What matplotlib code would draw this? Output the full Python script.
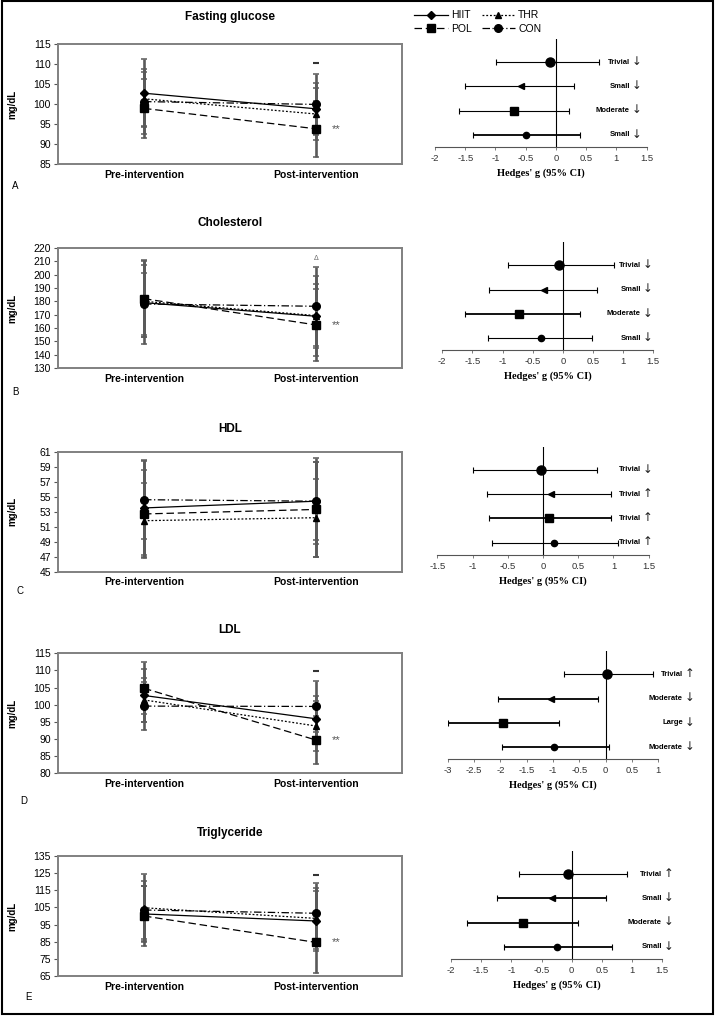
import numpy as np
import matplotlib
matplotlib.use('Agg')
import matplotlib.pyplot as plt
from matplotlib.patches import Rectangle

plt.rcParams['font.family'] = ['Liberation Sans', 'DejaVu Sans']

# DONNEES
categories = ['Pre-intervention', 'Post-intervention']
groups = ['HIIT', 'THR', 'POL', 'CON']
titles = ['Fasting glucose', 'Cholesterol', 'HDL', 'LDL', 'Triglyceride']
letters = ['A', 'B', 'C', 'D', 'E']

# moyennes [pre, post] et ecart-types, ordre HIIT, THR, POL, CON
glu_mean = [[102.7, 98.8], [101.3, 97.5], [98.9, 93.8], [100.6, 99.9]]
glu_sd = [[8.5, 6.5], [6.8, 6.6], [7.4, 7.0], [8.2, 7.5]]
chol_mean = [[179, 168.8], [180, 169.3], [182, 162.3], [178, 176.3]]
chol_sd = [[31, 30], [27, 24], [29, 27], [23, 29.5]]
hdl_mean = [[53.5, 54.4], [51.8, 52.2], [52.7, 53.3], [54.6, 54.4]]
hdl_sd = [[6.3, 5.2], [5.0, 5.2], [5.8, 6.3], [5.3, 5.7]]
ldl_mean = [[102.7, 95.9], [101.4, 93.8], [104.8, 89.7], [99.6, 99.5]]
ldl_sd = [[7.6, 6.7], [6.3, 7.2], [7.6, 7.0], [7.0, 7.4]]
tg_mean = [[101.2, 97.1], [104.8, 98.6], [100.0, 84.6], [103.5, 101.6]]
tg_sd = [[16.3, 17.7], [19.5, 18.0], [17.5, 18.0], [17.0, 17.5]]

y_limits = [(85, 115), (130, 220), (45, 61), (80, 115), (65, 135)]
y_steps = [5, 10, 2, 5, 10]
sig_marks = [110.2, 212.5, None, 109.7, 123.9]

# Hedges' g [g, bas, haut], ordre HIIT, THR, POL, CON
glu_g = [[-0.50, -1.37, 0.40], [-0.58, -1.51, 0.30], [-0.70, -1.60, 0.22], [-0.09, -0.99, 0.72]]
chol_g = [[-0.37, -1.24, 0.49], [-0.32, -1.22, 0.56], [-0.72, -1.62, 0.29], [-0.06, -0.91, 0.84]]
hdl_g = [[0.15, -0.73, 1.06], [0.11, -0.80, 0.96], [0.09, -0.77, 0.97], [-0.03, -0.99, 0.77]]
ldl_g = [[-0.975, -1.97, 0.07], [-1.04, -2.04, -0.14], [-1.955, -3.0, -0.88], [0.025, -0.79, 0.90]]
tg_g = [[-0.24, -1.12, 0.66], [-0.32, -1.23, 0.56], [-0.81, -1.73, 0.10], [-0.07, -0.88, 0.92]]

glu_lab = ['Small ↓', 'Small ↓', 'Moderate ↓', 'Trivial ↓']
chol_lab = ['Small ↓', 'Small ↓', 'Moderate ↓', 'Trivial ↓']
hdl_lab = ['Trivial ↑', 'Trivial ↑', 'Trivial ↑', 'Trivial ↓']
ldl_lab = ['Moderate ↓', 'Moderate ↓', 'Large ↓', 'Trivial ↑']
tg_lab = ['Small ↓', 'Small ↓', 'Moderate ↓', 'Trivial ↑']

g_limits = [(-2, 1.5), (-2, 1.5), (-1.5, 1.5), (-3, 1), (-2, 1.5)]
g_steps = [0.5, 0.5, 0.5, 0.5, 0.5]

means = [glu_mean, chol_mean, hdl_mean, ldl_mean, tg_mean]
sds = [glu_sd, chol_sd, hdl_sd, ldl_sd, tg_sd]
gvals = [glu_g, chol_g, hdl_g, ldl_g, tg_g]
glabs = [glu_lab, chol_lab, hdl_lab, ldl_lab, tg_lab]

# MISE EN PAGE (pixels)
W, H = 719, 1016
left_tops = [44, 248, 451.7, 653.3, 856]
title_gap = [27, 25, 23, 23, 23]
letter_pos = [(15.7, 186), (15.7, 392), (20, 591), (24, 801), (29, 997)]
f_left = [435, 442.3, 437.3, 447.7, 451]
f_right = [646.5, 653.3, 648.7, 658.3, 662.3]
f_axis = [147, 350.3, 554.7, 759.3, 959]
lab_x = [0.898, 0.918, 0.94, 1.094, 0.975]
thick_rows = [[1], [2], [2], [1, 2, 3], [1, 2, 3]]

styles = [dict(ls='-', marker='D', ms=3.8),
          dict(ls=(0, (1.5, 1.5)), marker='^', ms=5),
          dict(ls=(0, (6, 3)), marker='s', ms=5.5),
          dict(ls=(0, (6, 2, 1, 2)), marker='o', ms=5.5)]
f_marks = [dict(marker='o', ms=4.5), dict(marker='<', ms=5),
           dict(marker='s', ms=6), dict(marker='o', ms=6.5)]
rows = [1, 3, 2, 4]  # position verticale: HIIT, THR, POL, CON


def box(x0, y0, x1, y1):
    return [x0 / W, 1 - y1 / H, (x1 - x0) / W, (y1 - y0) / H]


fig = plt.figure(figsize=(W / 100, H / 100), dpi=100)
x = np.arange(len(categories))
handles = []

for i in range(5):
    ax = fig.add_axes(box(58, left_tops[i], 402, left_tops[i] + 120))
    for k in range(4):
        ax.errorbar(x, means[i][k], yerr=sds[i][k], fmt='none', ecolor='#5a5a5a',
                    elinewidth=1.9, capsize=2.5, capthick=1.1, zorder=2)
    for k in range(4):
        ln, = ax.plot(x, means[i][k], color='black', lw=0.9, mfc='black', mec='black',
                      zorder=3, label=groups[k], **styles[k])
        if i == 0:
            handles.append(ln)
    ax.set_xlim(-0.5, 1.5)
    ax.set_ylim(*y_limits[i])
    ax.set_yticks(np.arange(y_limits[i][0], y_limits[i][1] + 0.1, y_steps[i]))
    ax.set_xticks(x)
    ax.set_xticklabels(categories, fontsize=7.5, fontweight='bold')
    ax.tick_params(axis='x', length=0, pad=4)
    ax.tick_params(axis='y', labelsize=7.5, length=3, width=0.8, color='#555555', pad=2)
    for s in ax.spines.values():
        s.set_color('#808080')
        s.set_linewidth(1.4)
    ax.set_ylabel('mg/dL', fontsize=7, fontweight='bold')
    ax.yaxis.set_label_coords(-41 / 344, 0.5)
    ax.text(0.5, 1 + title_gap[i] / 120, titles[i], transform=ax.transAxes,
            ha='center', va='center', fontsize=8.5, fontweight='bold')
    # significativite
    if i != 2:
        ax.text(1.12, means[i][2][1], '**', ha='center', va='center', fontsize=8,
                color='#555555')
    if sig_marks[i] is not None:
        if i == 1:
            ax.text(1, sig_marks[i], 'Δ', ha='center', va='center', fontsize=5,
                    color='#666666')
        else:
            ax.plot(1, sig_marks[i], marker='_', ms=4, mew=1.5, color='#333333')
    fig.text(letter_pos[i][0] / W, 1 - letter_pos[i][1] / H, letters[i],
             ha='center', va='center', fontsize=7)

    # forest plot
    fx = fig.add_axes(box(f_left[i], f_axis[i] - 108, f_right[i], f_axis[i]))
    fx.set_xlim(*g_limits[i])
    fx.set_ylim(0.5, 4.95)
    fx.axvline(0, color='black', lw=0.8)
    trans = fx.get_yaxis_transform()
    for k in range(4):
        g, lo, hi = gvals[i][k]
        lw = 1.3 if rows[k] in thick_rows[i] else 0.8
        fx.errorbar(g, rows[k], xerr=[[g - lo], [hi - g]], fmt='none', ecolor='black',
                    elinewidth=lw, capsize=2, capthick=0.8)
        fx.plot(g, rows[k], color='black', ls='none', **f_marks[k])
        word, arrow = glabs[i][k].rsplit(' ', 1)
        fx.annotate(word, xy=(lab_x[i], rows[k]), xycoords=trans, xytext=(3.5, 0),
                    textcoords='offset points', ha='right', va='center',
                    fontsize=5.5, fontweight='bold')
        fx.annotate(arrow, xy=(lab_x[i], rows[k]), xycoords=trans, xytext=(4.5, 0.5),
                    textcoords='offset points', ha='left', va='center',
                    fontsize=8.5, family=['DejaVu Sans'], color='#222222')
    ticks = np.arange(g_limits[i][0], g_limits[i][1] + 0.01, g_steps[i])
    fx.set_xticks(ticks)
    fx.set_xticklabels(['%g' % t for t in ticks], fontsize=6.8, color='#333333')
    fx.tick_params(axis='x', length=2, width=0.6, color='#666666', pad=3)
    fx.set_yticks([])
    for s in ['top', 'left', 'right']:
        fx.spines[s].set_visible(False)
    fx.spines['bottom'].set_color('#555555')
    fx.spines['bottom'].set_linewidth(0.8)
    fx.set_xlabel("Hedges' g (95% CI)", fontsize=7.5, fontweight='bold',
                  family=['Liberation Serif', 'DejaVu Serif'], labelpad=4)
    fx.patch.set_alpha(0)

# legende
fig.legend([handles[0], handles[2], handles[1], handles[3]], ['HIIT', 'POL', 'THR', 'CON'],
           ncol=2, loc='upper left', bbox_to_anchor=(410 / W, 1 - 6 / H), frameon=False,
           fontsize=7.5, handlelength=3.2, handletextpad=0.3, columnspacing=1.0,
           labelspacing=0.35, borderaxespad=0)

# cadre
fig.patches.append(Rectangle((1.5 / W, 2 / H), 711.5 / W, 1013 / H, transform=fig.transFigure,
                             fill=False, ec='black', lw=1.5))

plt.savefig('out.png', dpi=100)
